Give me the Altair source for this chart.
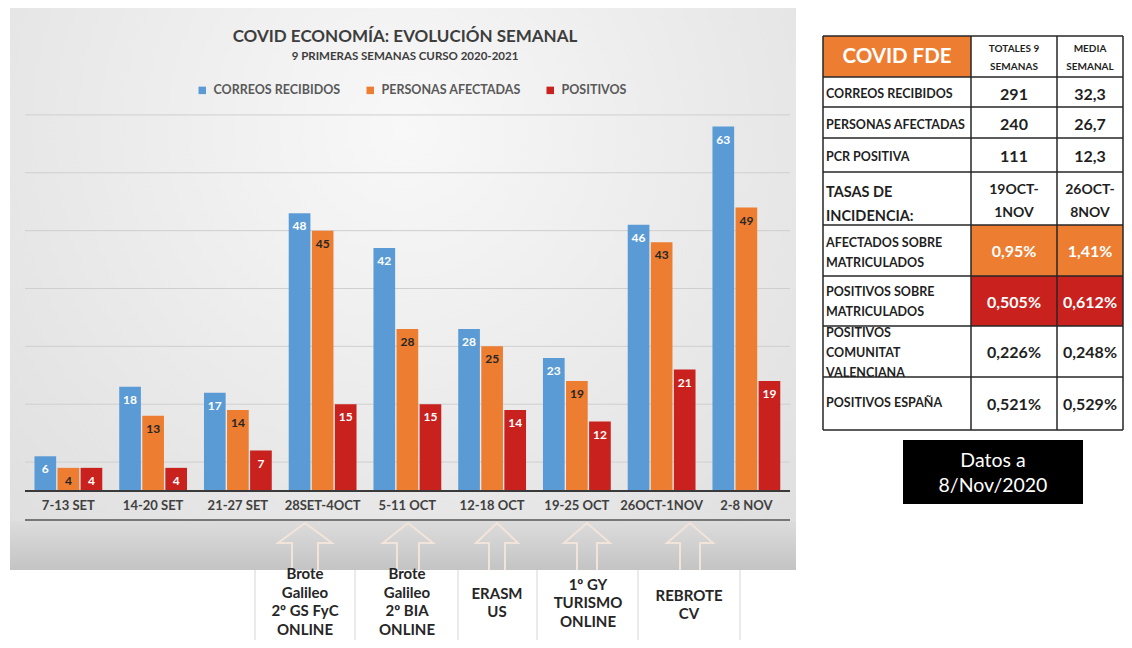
import altair as alt
import pandas as pd

# ---------------- data ----------------
weeks = ["7-13 SET", "14-20 SET", "21-27 SET", "28SET-4OCT", "5-11 OCT",
         "12-18 OCT", "19-25 OCT", "26OCT-1NOV", "2-8 NOV"]
correos = [6, 18, 17, 48, 42, 28, 23, 46, 63]
personas = [4, 13, 14, 45, 28, 25, 19, 43, 49]
positivos = [4, 4, 7, 15, 15, 14, 12, 21, 19]
series_names = ["Correos recibidos", "Personas afectadas", "Positivos"]
series_colors = ["#5B9BD5", "#ED7D31", "#C9211E"]
grid_values = [5, 15, 25, 35, 45, 55, 65]

title_text = "COVID Economía: Evolución semanal"
subtitle_text = "9 primeras semanas Curso 2020-2021"

events = ["Brote\nGalileo\n2º GS FyC\nONLINE", "Brote\nGalileo\n2º BIA\nONLINE",
          "ERASM\nUS", "1º GY\nTURISMO\nONLINE", "REBROTE\nCV"]

table_header = ["COVID FdE", "Totales 9\nsemanas", "Media\nsemanal"]
table_labels = ["Correos recibidos", "Personas afectadas", "PCR Positiva",
                "Tasas de\nincidencia:", "Afectados sobre\nMatriculados",
                "Positivos sobre\nMatriculados", "Positivos\nComunitat\nValenciana",
                "Positivos España"]
table_totales = ["291", "240", "111", "19OCT-\n1NOV", "0,95%", "0,505%", "0,226%", "0,521%"]
table_media = ["32,3", "26,7", "12,3", "26OCT-\n8NOV", "1,41%", "0,612%", "0,248%", "0,529%"]
datos_text = "Datos a\n8/Nov/2020"

# ---------------- layout (reference pixel coords) ----------------
def S(v):
    return v - 8

W, H = 1116, 632
FONT = "Lato"
ORANGE, RED, DARK = "#ED7D31", "#C9211E", "#1f1f1f"
one = pd.DataFrame({"k": [0]})

xscale = alt.Scale(domain=weeks, range=[S(26), S(788.75)], paddingInner=0.2, paddingOuter=0.1)
yscale = alt.Scale(domain=[0, 70], range=[S(491), S(491) - 405], nice=False, zero=False)

panel = alt.Chart(one).mark_rect(
    fill={"gradient": "radial",
          "stops": [{"offset": 0, "color": "#f8f8f8"}, {"offset": 1, "color": "#dcdcdc"}],
          "x1": 0.5, "y1": 0.3, "r1": 0, "x2": 0.5, "y2": 0.3, "r2": 0.8}
).encode(x=alt.value(S(10)), x2=alt.value(S(796)), y=alt.value(S(4)), y2=alt.value(S(570)))

band = alt.Chart(one).mark_rect(
    fill={"gradient": "linear",
          "stops": [{"offset": 0, "color": "#dcdcdc"}, {"offset": 1, "color": "#c4c4c4"}],
          "x1": 0, "y1": 0, "x2": 0, "y2": 1}
).encode(x=alt.value(S(10)), x2=alt.value(S(796)), y=alt.value(S(521)), y2=alt.value(S(570)))

grid = alt.Chart(pd.DataFrame({"v": grid_values})).mark_rule(color="#cfcfcf", strokeWidth=1).encode(
    y=alt.Y("v:Q", scale=yscale, axis=None), x=alt.value(S(25)), x2=alt.value(S(790)))

bars_df = pd.DataFrame({
    "week": weeks * 3,
    "series": [s for s in series_names for _ in weeks],
    "value": correos + personas + positivos,
})

enc_x = alt.X("week:N", scale=xscale, axis=None)
enc_xo = alt.XOffset("series:N", scale=alt.Scale(domain=series_names, paddingInner=0.06))
enc_y = alt.Y("value:Q", scale=yscale, axis=None)

bars = alt.Chart(bars_df).mark_bar().encode(
    x=enc_x, xOffset=enc_xo, y=enc_y,
    color=alt.Color("series:N", scale=alt.Scale(domain=series_names, range=series_colors),
                    legend=alt.Legend(orient="none", legendX=S(196), legendY=S(84),
                                      direction="horizontal", title=None,
                                      symbolType="square", symbolSize=56, symbolStrokeWidth=0,
                                      labelFont=FONT, labelFontWeight="bold", labelFontSize=12.5,
                                      labelColor="#595959", labelExpr="upper(datum.label)",
                                      labelLimit=400, columnPadding=23, labelOffset=5, padding=0)),
)

bar_labels = alt.Chart(bars_df).mark_text(font=FONT, fontWeight="bold", fontSize=12,
                                          baseline="middle", dy=13).encode(
    x=enc_x, xOffset=enc_xo, y=enc_y, text="value:Q",
    color=alt.condition("datum.series === 'Personas afectadas'", alt.value("#262626"), alt.value("white")),
)

baseline = alt.Chart(one).mark_rule(color="#3a3a3a", strokeWidth=2).encode(
    y=alt.Y("k:Q", scale=yscale, axis=None), x=alt.value(S(25)), x2=alt.value(S(790)))

line2 = alt.Chart(one).mark_rule(color="#555555", strokeWidth=1.5).encode(
    y=alt.value(S(520)), x=alt.value(S(25)), x2=alt.value(S(790)))

xlabels = alt.Chart(pd.DataFrame({"week": weeks})).mark_text(
    font=FONT, fontWeight="bold", fontSize=13, color="#404040", baseline="middle").encode(
    x=enc_x, y=alt.value(S(506)), text="week:N")

# arrows (outlined up arrows), geometry computed from layout constants
arrow_geo = [(305, 27, 13), (408, 25, 11), (497, 21, 8), (587, 23, 10), (690, 23, 10)]
tip_y, base_y, bot_y = 523, 543, 570
arr_rows = []
for i, (cx, hh, sh) in enumerate(arrow_geo):
    pts = [(cx - sh, bot_y), (cx - sh, base_y), (cx - hh, base_y), (cx, tip_y),
           (cx + hh, base_y), (cx + sh, base_y), (cx + sh, bot_y)]
    for j, (px, py) in enumerate(pts):
        arr_rows.append({"a": i, "o": j, "px": S(px), "py": S(py)})
arrows = alt.Chart(pd.DataFrame(arr_rows)).mark_line(color="#f3e4da", strokeWidth=2).encode(
    x=alt.X("px:Q", scale=None), y=alt.Y("py:Q", scale=None), detail="a:N", order="o:Q")

sep_x = [255, 355, 458, 537, 638, 740]
seps = alt.Chart(pd.DataFrame({"x": [S(v) for v in sep_x], "y": S(570), "y2": S(648)})).mark_rule(
    color="#d6d6d6", strokeWidth=1).encode(
    x=alt.X("x:Q", scale=None), y=alt.Y("y:Q", scale=None), y2="y2:Q")

# ---------------- table ----------------
cols = [823, 971, 1057, 1123]
rows = [36, 77, 107, 138, 172, 225, 276, 326, 377, 430]

fills = [
    (cols[0], cols[1], rows[0], rows[1], ORANGE),
    (cols[1], cols[2], rows[5], rows[6], ORANGE),
    (cols[2], cols[3], rows[5], rows[6], ORANGE),
    (cols[1], cols[2], rows[6], rows[7], RED),
    (cols[2], cols[3], rows[6], rows[7], RED),
    (903, 1083, 440, 504, "#000000"),
]
fill_df = pd.DataFrame([{"x": S(a), "x2": S(b), "y": S(c), "y2": S(d), "c": e} for a, b, c, d, e in fills])
table_fill = alt.Chart(fill_df).mark_rect().encode(
    x=alt.X("x:Q", scale=None), x2="x2:Q", y=alt.Y("y:Q", scale=None), y2="y2:Q",
    color=alt.Color("c:N", scale=None))

tl = []
for r in rows:
    tl.append({"x": S(cols[0]), "x2": S(cols[-1]), "y": S(r), "y2": S(r)})
for c in cols:
    tl.append({"x": S(c), "x2": S(c), "y": S(rows[0]), "y2": S(rows[-1])})
table_lines = alt.Chart(pd.DataFrame(tl)).mark_rule(color="#262626", strokeWidth=1.5).encode(
    x=alt.X("x:Q", scale=None), x2="x2:Q", y=alt.Y("y:Q", scale=None), y2="y2:Q")

# ---------------- text items ----------------
items = []


def add_text(x, y, text, size, color, align="center", weight="bold", lh=None):
    lines = text.split("\n")
    lh = lh or size * 1.2
    n = len(lines)
    for i, ln in enumerate(lines):
        items.append(dict(x=S(x), y=S(y + (i - (n - 1) / 2) * lh), text=ln, size=size,
                          color=color, align=align, weight=weight))


add_text(405, 37, title_text.upper(), 17, "#3d3d3d")
add_text(405, 57, subtitle_text.upper(), 11.5, "#3d3d3d")

ev_x = [305, 407, 497, 588, 689]
ev_y = [602, 602, 603, 603, 605]
for t, x, y in zip(events, ev_x, ev_y):
    add_text(x, y, t, 15, "#262626", lh=18.5)

c2 = (cols[1] + cols[2]) / 2
c3 = (cols[2] + cols[3]) / 2
add_text(897, 57, table_header[0].upper(), 20.5, "white")
add_text(c2, 57.5, table_header[1].upper(), 10, DARK, lh=18)
add_text(c3, 57.5, table_header[2].upper(), 10, DARK, lh=18)

label_y = [94, 125, 157, 205, 253, 302, 353, 403]
value_y = [95, 125, 157, 201.5, 252, 303, 353, 405]
for i, lab in enumerate(table_labels):
    big = (i == 3)
    add_text(826, label_y[i], lab.upper(), 14.5 if big else 12.5, DARK, align="left",
             lh=24 if big else 20)
    vcol = "white" if i in (4, 5) else DARK
    add_text(c2, value_y[i], table_totales[i], 14 if big else 16, vcol, lh=23)
    add_text(c3, value_y[i], table_media[i], 14 if big else 16, vcol, lh=23)

add_text(993, 473.5, datos_text, 19.5, "white", weight="normal", lh=25)

items_df = pd.DataFrame(items)
text_layers = []
for (al, wt), sub in items_df.groupby(["align", "weight"]):
    text_layers.append(
        alt.Chart(sub).mark_text(font=FONT, fontWeight=wt, align=al, baseline="middle").encode(
            x=alt.X("x:Q", scale=None), y=alt.Y("y:Q", scale=None), text="text:N",
            size=alt.Size("size:Q", scale=None), color=alt.Color("color:N", scale=None)))

chart = alt.layer(
    panel, band, grid, bars, bar_labels, baseline, line2, xlabels, arrows, seps,
    table_fill, table_lines, *text_layers
).properties(
    width=W, height=H, padding=0, background="white",
    autosize=alt.AutoSizeParams(type="none"),
).configure_view(stroke=None)

chart.save("out.html", embed_options={"renderer": "svg", "actions": False})
